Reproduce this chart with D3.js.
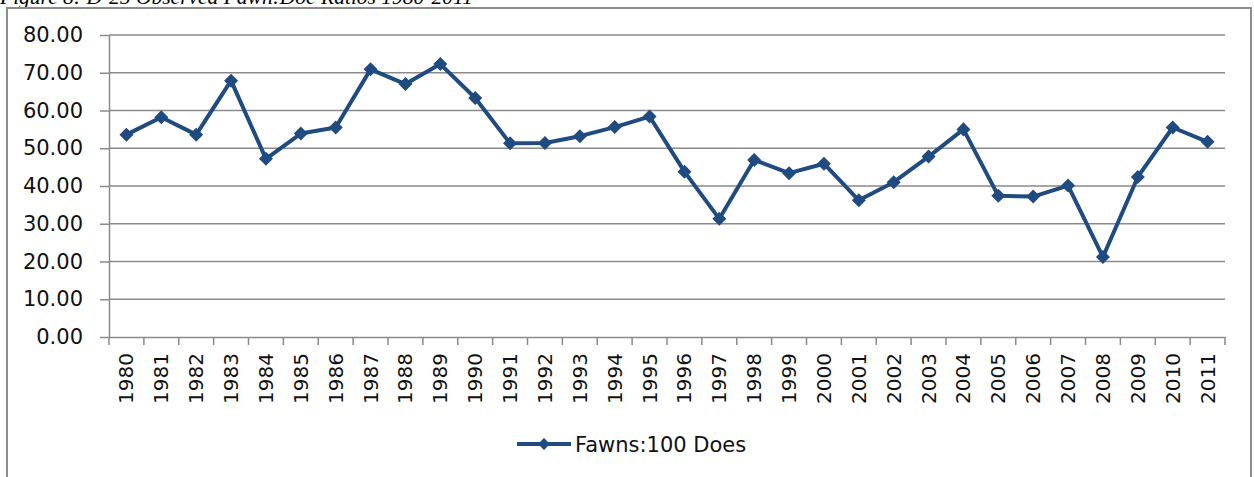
<html lang="en">
<head>
  <meta charset="utf-8"/>
  <title>Fawn:Doe Ratios</title>
  <script src="https://d3js.org/d3.v7.min.js"></script>
  <style>
  body { margin:0; background:#fff; }
  * { font-family:"DejaVu Sans", sans-serif; }
  .grid line { stroke:#8a8a8a; stroke-width:1.5px; }
  .axis path, .axis line { stroke:#8a8a8a; stroke-width:1.5px; }
  .axis text { fill:#111; font-size:20px; }
  </style>
</head>
<body>
  <svg id="chart" width="1254" height="477"></svg>
  <script>
    const years = ["1980","1981","1982","1983","1984","1985","1986","1987","1988","1989","1990",
      "1991","1992","1993","1994","1995","1996","1997","1998","1999","2000","2001","2002","2003",
      "2004","2005","2006","2007","2008","2009","2010","2011"];
    const ratios = [53.6, 58.2, 53.6, 67.9, 47.2, 53.9, 55.5, 70.9, 67.0, 72.3, 63.3,
      51.3, 51.4, 53.2, 55.6, 58.4, 43.8, 31.3, 46.9, 43.4, 45.9, 36.2, 41.0, 47.8,
      55.0, 37.4, 37.2, 40.1, 21.2, 42.4, 55.5, 51.7];
    const yTicks = [0, 10, 20, 30, 40, 50, 60, 70, 80];
    const seriesName = "Fawns:100 Does";
    const title = "Figure 8: D-25 Observed Fawn:Doe Ratios 1980-2011";

    const svg = d3.select("#chart");
    const plotLeft = 109, plotRight = 1225, plotTop = 35, plotBottom = 337;
    const blue = "#1f4b80";

    // title, cut off at the top of the page as in the source document
    svg.append("text").attr("x", 0).attr("y", 4)
      .style("font-family", "'Liberation Serif', serif").style("font-style", "italic")
      .style("font-size", "21.5px").attr("fill", "#000").text(title);

    // outer chart frame
    svg.append("rect").attr("x", 7).attr("y", 8).attr("width", 1244).attr("height", 490)
      .attr("fill", "none").attr("stroke", "#8c8c8c").attr("stroke-width", 2);

    const x = d3.scaleBand().domain(years).range([plotLeft, plotRight]).padding(0);
    const y = d3.scaleLinear().domain([0, 80]).range([plotBottom, plotTop]);

    svg.append("g").attr("class", "grid").selectAll("line").data(yTicks.slice(1)).join("line")
      .attr("x1", plotLeft).attr("x2", plotRight).attr("y1", d => y(d)).attr("y2", d => y(d));

    const yAxis = svg.append("g").attr("class", "axis").attr("transform", `translate(${plotLeft},0)`)
      .call(d3.axisLeft(y).tickValues(yTicks).tickFormat(d3.format(".2f")).tickSize(9).tickSizeOuter(0));
    yAxis.selectAll("text").attr("x", -26).style("font-size", "21px");

    const xAxis = svg.append("g").attr("class", "axis").attr("transform", `translate(0,${plotBottom})`)
      .call(d3.axisBottom(x).tickSize(0).tickSizeOuter(0));
    xAxis.selectAll("text").attr("transform", "rotate(-90)")
      .attr("x", -16).attr("y", 0).attr("dy", "0.35em").style("text-anchor", "end");
    // tick marks sit at category boundaries
    const bounds = years.map(d => x(d)).concat([x.range()[1]]);
    xAxis.selectAll("line.bound").data(bounds).join("line").attr("class", "bound")
      .attr("x1", d => d).attr("x2", d => d).attr("y1", 0).attr("y2", 8);

    const cx = (d, i) => x(years[i]) + x.bandwidth() / 2;
    const line = d3.line().x(cx).y(d => y(d));
    svg.append("path").datum(ratios).attr("d", line)
      .attr("fill", "none").attr("stroke", blue).attr("stroke-width", 4).attr("stroke-linejoin", "round");

    const diamond = d3.symbol().type(d3.symbolDiamond2).size(125);
    svg.append("g").selectAll("path").data(ratios).join("path")
      .attr("d", diamond)
      .attr("transform", (d, i) => `translate(${cx(d, i)},${y(d)})`)
      .attr("fill", blue);

    // legend
    const lg = svg.append("g").attr("transform", "translate(517,444)");
    lg.append("line").attr("x1", 0).attr("x2", 54).attr("y1", 0).attr("y2", 0)
      .attr("stroke", blue).attr("stroke-width", 4);
    lg.append("path").attr("d", d3.symbol().type(d3.symbolDiamond2).size(90)).attr("transform", "translate(27,0)").attr("fill", blue);
    lg.append("text").attr("x", 58).attr("y", 0).attr("dy", "0.36em")
      .style("font-size", "21px").attr("fill", "#111").text(seriesName);
  </script>
</body>
</html>
